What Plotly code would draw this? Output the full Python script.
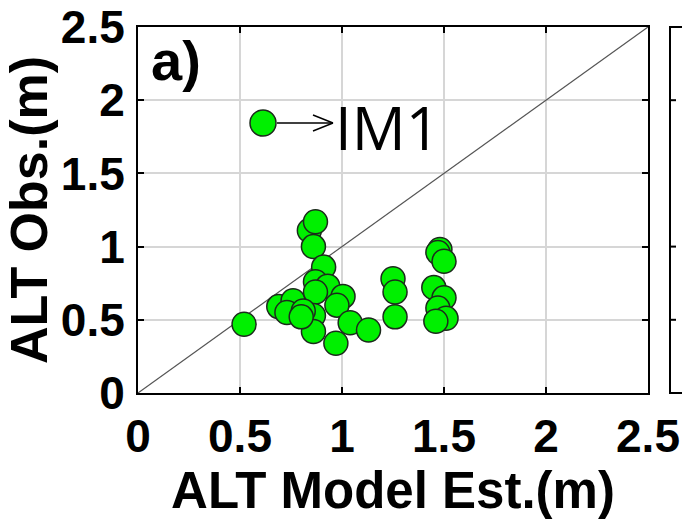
import plotly.graph_objects as go

x_est = [0.52, 0.69, 0.76, 0.73, 0.84, 0.87, 0.86, 0.91, 0.87, 0.93, 0.87, 1.005,
         0.975, 0.86, 0.81, 0.86, 1.04, 1.13, 0.97, 0.80, 1.25, 1.26, 1.26,
         1.48, 1.47, 1.50, 1.45, 1.50, 1.47, 1.51, 1.46]
y_obs = [0.47, 0.59, 0.63, 0.55, 1.11, 1.17, 1.00, 0.86, 0.76, 0.73, 0.69, 0.66,
         0.60, 0.53, 0.56, 0.42, 0.48, 0.43, 0.34, 0.52, 0.78, 0.69, 0.52,
         0.98, 0.96, 0.90, 0.72, 0.65, 0.58, 0.51, 0.49]
ticks = [0, 0.5, 1, 1.5, 2, 2.5]
tick_text = ["0", "0.5", "1", "1.5", "2", "2.5"]
series_name = "IM1"

FONT = "Liberation Sans"
GREEN = "#00f000"
EDGE = "#1c2a1c"

fig = go.Figure()
fig.add_trace(go.Scatter(x=[0, 2.5], y=[0, 2.5], mode="lines",
                         line=dict(color="#555555", width=1.2),
                         showlegend=False, hoverinfo="skip"))
fig.add_trace(go.Scatter(x=x_est, y=y_obs, mode="markers", name=series_name,
                         marker=dict(size=24, color=GREEN,
                                     line=dict(color=EDGE, width=1.5)),
                         showlegend=False))

axis_common = dict(range=[0, 2.5], tickvals=ticks, ticktext=tick_text,
                   showgrid=True, gridcolor="#d6d6d6", gridwidth=1.5,
                   showline=True, linecolor="black", linewidth=2, mirror="ticks",
                   ticks="inside", ticklen=6, tickwidth=2, tickcolor="black",
                   zeroline=False, automargin=False,
                   tickfont=dict(family=FONT, size=46, color="black", weight="bold"))

fig.update_xaxes(**axis_common, ticklabelstandoff=2,
                 title=dict(text="ALT Model Est.(m)", standoff=6,
                            font=dict(family=FONT, size=51, color="black", weight="bold")))
fig.update_yaxes(**axis_common, ticklabelstandoff=2,
                 title=dict(text="ALT Obs.(m)", standoff=6,
                            font=dict(family=FONT, size=52, color="black", weight="bold")))

# panel label
fig.add_annotation(x=0.022, y=1.0, xref="paper", yref="paper", text="a)",
                   showarrow=False, xanchor="left", yanchor="top",
                   font=dict(family=FONT, size=56, color="black", weight="bold"))

# legend key: marker, arrow, text
W, H = 510, 366
def px(v):
    return v / W
def py(v):
    return v / H
cx, cy = 125 / W, 1 - 96 / H
fig.add_shape(type="circle", xref="paper", yref="paper",
              x0=cx - px(13), x1=cx + px(13), y0=cy - py(13), y1=cy + py(13),
              fillcolor=GREEN, line=dict(color=EDGE, width=1.5))
ax0, ax1 = cx + px(14), cx + px(70)
fig.add_shape(type="line", xref="paper", yref="paper", x0=ax0, x1=ax1, y0=cy, y1=cy,
              line=dict(color="black", width=1.5))
fig.add_shape(type="line", xref="paper", yref="paper", x0=ax1 - px(20), x1=ax1,
              y0=cy + py(8), y1=cy, line=dict(color="black", width=1.5))
fig.add_shape(type="line", xref="paper", yref="paper", x0=ax1 - px(20), x1=ax1,
              y0=cy - py(8), y1=cy, line=dict(color="black", width=1.5))
fig.add_annotation(x=ax1 + px(0), y=cy - py(4), xref="paper", yref="paper",
                   text=series_name, showarrow=False, xanchor="left", yanchor="middle",
                   font=dict(family="Open Sans", size=60, color="black"))

# neighbouring panel (partially visible at the right edge)
nx = (670 - 138) / W
fig.add_shape(type="rect", xref="paper", yref="paper", x0=nx, x1=nx + 0.5,
              y0=0, y1=1, line=dict(color="black", width=2))
for t in [0.5, 1.0, 2.0]:
    yy = t / 2.5
    fig.add_shape(type="line", xref="paper", yref="paper", x0=nx, x1=nx + px(6),
                  y0=yy, y1=yy, line=dict(color="black", width=2))

fig.update_layout(width=682, height=519, margin=dict(l=138, r=34, t=27, b=126),
                  plot_bgcolor="white", paper_bgcolor="white", showlegend=False)

fig.write_html("out.html")
